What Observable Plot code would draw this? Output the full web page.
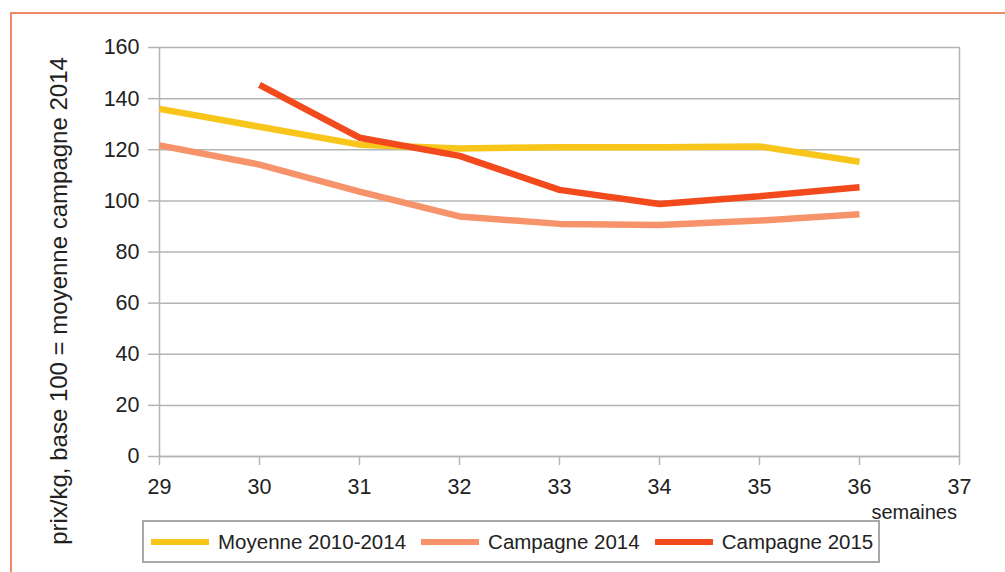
<!DOCTYPE html>
<html>
<head>
<meta charset="utf-8">
<script src="https://cdn.jsdelivr.net/npm/d3@7"></script>
<script src="https://cdn.jsdelivr.net/npm/@observablehq/plot@0.6"></script>
<style>
  html, body { margin: 0; padding: 0; background: #fff; }
  #wrap { position: relative; width: 1005px; height: 572px; overflow: hidden; font-family: "Liberation Sans", Arial, sans-serif; }
  #frame { position: absolute; left: 10px; top: 12px; width: 1100px; height: 700px; border: 2px solid #ef8a68; box-sizing: border-box; }
  #legend { position: absolute; left: 142px; top: 520px; width: 738px; height: 43px; border: 2px solid #a8a8a8; box-sizing: border-box; background: #fff;
            display: flex; align-items: center; font-size: 20.5px; color: #222; }
  .item { display: flex; align-items: center; }
  .sw { display: inline-block; width: 58px; height: 6px; margin-left: 15px; margin-right: 9px; }
  .item:first-child .sw { margin-left: 7px; }
  #xlabel { position: absolute; right: 48px; top: 501px; font-size: 20px; line-height: 23px; color: #222; }
  #ylabel { position: absolute; left: 58.5px; top: 301px; transform: translate(-50%, -50%) rotate(-90deg); white-space: nowrap;
            font-size: 24px; line-height: 28px; color: #222; }
  svg { position: absolute; left: 0; top: 0; }
</style>
</head>
<body>
<div id="wrap">
  <div id="frame"></div>
  <div id="chart"></div>
  <div id="ylabel"></div>
  <div id="xlabel"></div>
  <div id="legend"></div>
</div>
<script>
const weeks = [29, 30, 31, 32, 33, 34, 35, 36];
const seriesNames = ["Moyenne 2010-2014", "Campagne 2014", "Campagne 2015"];
const moyenne = [136, 129, 122, 120.5, 121, 121, 121.3, 115.3];
const campagne2014 = [121.7, 114.2, 103.6, 93.9, 91, 90.6, 92.3, 94.8];
const campagne2015 = [null, 145.4, 124.7, 117.6, 104.3, 98.8, 101.8, 105.3];
const colors = ["#f8c51a", "#f7936a", "#f24a1c"];
const yTicks = [0, 20, 40, 60, 80, 100, 120, 140, 160];
const xTicks = [29, 30, 31, 32, 33, 34, 35, 36, 37];
const yLabel = "prix/kg, base 100 = moyenne campagne 2014";
const xLabel = "semaines";

const values = [moyenne, campagne2014, campagne2015];
const data = [];
seriesNames.forEach((s, i) => {
  weeks.forEach((w, j) => {
    if (values[i][j] != null) data.push({series: s, week: w, value: values[i][j]});
  });
});

const chart = Plot.plot({
  width: 1005,
  height: 572,
  marginLeft: 159,
  marginRight: 46,
  marginTop: 47,
  marginBottom: 116,
  style: {fontFamily: "Liberation Sans, Arial, sans-serif", fontSize: "21.5px", background: "transparent", color: "#222"},
  x: {domain: [29, 37]},
  y: {domain: [0, 160]},
  color: {domain: seriesNames, range: colors},
  marks: [
    Plot.gridY(yTicks, {stroke: "#b4b4b4", strokeOpacity: 1, strokeWidth: 1.5}),
    Plot.ruleX([37], {stroke: "#b4b4b4", strokeWidth: 1.5}),
    Plot.axisY(yTicks, {tickSize: 11, tickPadding: 9, fontSize: 21.5, stroke: "#b4b4b4", strokeWidth: 1.5, label: null}),
    Plot.axisX(xTicks, {tickSize: 9, tickPadding: 13, fontSize: 21.5, stroke: "#b4b4b4", strokeWidth: 1.5, label: null}),
    Plot.ruleX([29], {stroke: "#b4b4b4", strokeWidth: 1.5}),
    Plot.ruleY([0], {stroke: "#b4b4b4", strokeWidth: 1.5}),
    Plot.line(data, {x: "week", y: "value", z: "series", stroke: "series", strokeWidth: 6.5, strokeLinejoin: "miter", strokeLinecap: "butt"})
  ]
});
document.getElementById("chart").appendChild(chart);
document.getElementById("xlabel").textContent = xLabel;
document.getElementById("ylabel").textContent = yLabel;

const legend = document.getElementById("legend");
seriesNames.forEach((s, i) => {
  const it = document.createElement("div");
  it.className = "item";
  const sw = document.createElement("span");
  sw.className = "sw";
  sw.style.background = colors[i];
  const tx = document.createElement("span");
  tx.textContent = s;
  it.appendChild(sw);
  it.appendChild(tx);
  legend.appendChild(it);
});
</script>
</body>
</html>
